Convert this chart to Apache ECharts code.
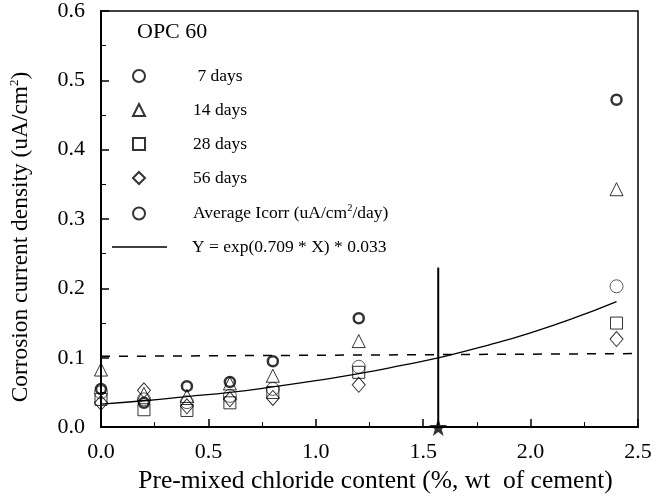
<!DOCTYPE html>
<html>
<head>
<meta charset="utf-8">
<script src="https://cdn.jsdelivr.net/npm/echarts@6/dist/echarts.min.js"></script>
<style>html,body{margin:0;padding:0;background:#fff}#c{width:668px;height:499px}</style>
</head>
<body>
<div id="c"></div>
<script>
// ---- data ----
var chlorideX = [0.0, 0.2, 0.4, 0.6, 0.8, 1.2, 2.4];
var days7  = [0.055, 0.035, 0.059, 0.065, 0.095, 0.157, 0.472];
var days14 = [0.083, 0.048, 0.045, 0.063, 0.074, 0.124, 0.343];
var days28 = [0.040, 0.025, 0.024, 0.035, 0.050, 0.079, 0.150];
var days56 = [0.035, 0.053, 0.030, 0.040, 0.042, 0.061, 0.127];
var avgIcorr = [0.050, 0.040, 0.036, 0.045, 0.055, 0.087, 0.203];
var fitX = [0.0, 0.2, 0.4, 0.6, 0.8, 1.0, 1.2, 1.4, 1.6, 1.8, 2.0, 2.2, 2.4];
var fitY = [0.033, 0.038, 0.044, 0.050, 0.058, 0.067, 0.077, 0.089, 0.102, 0.118, 0.136, 0.157, 0.181];
var thresholdX = [0.0, 2.5];
var thresholdY = [0.102, 0.106];
var criticalX = 1.57;
var criticalTopY = 0.23;
var legendNames = ['7 days', '14 days', '28 days', '56 days', 'Average'];
var fitName = 'Fit';

function pairs(xs, ys){ return xs.map(function(x,i){ return [x, ys[i]]; }); }

var FONT = '"Liberation Serif", "DejaVu Serif", serif';
var LF = 17.5;
var chart = echarts.init(document.getElementById('c'));
var hollow = function(w){ return {color:'rgba(0,0,0,0)', borderColor:'#000', borderWidth:w}; };
var richLegend = {
  f:{fontFamily:FONT, fontSize:LF, color:'#000', padding:[0,0,0,43]},
  t:{fontFamily:FONT, fontSize:LF, color:'#000'},
  s:{fontFamily:FONT, fontSize:10.5, color:'#000', padding:[0,0,10,0]}
};

chart.setOption({
  animation: false,
  backgroundColor: '#fff',
  textStyle: {fontFamily: FONT, color:'#000'},
  grid: {left:101, right:30, top:10, bottom:63, show:true, borderColor:'#000', borderWidth:1.5, backgroundColor:'transparent'},
  title: {text:'OPC 60', left:132, top:16, textStyle:{fontFamily:FONT, fontSize:22, fontWeight:'normal', color:'#000'}},
  legend: [{
    orient:'vertical', left:127, top:62, itemWidth:12, itemHeight:12, itemGap:16,
    data: legendNames,
    formatter: function(n){
      if(n==='7 days') return '{f| 7 days}';
      if(n==='Average') return '{f|Average Icorr (uA/cm}{s|2}{t|/day)}';
      return '{f|'+n+'}';
    },
    textStyle:{fontFamily:FONT, color:'#000', rich:richLegend},
    selectedMode:false
  },{
    orient:'vertical', left:107, top:233, itemWidth:55, itemHeight:1.5,
    data:[{name:fitName, icon:'rect'}],
    formatter: function(){ return '{f|Y = exp(0.709 * X) * 0.033}'; },
    textStyle:{fontFamily:FONT, color:'#000', rich:{
      f:{fontFamily:FONT, fontSize:LF, color:'#000', padding:[0,0,0,20]}
    }},
    selectedMode:false
  }],
  xAxis: {
    type:'value', min:0, max:2.5, interval:0.5,
    name:'{t|Pre-mixed chloride content (%, wt  of cement)}', nameLocation:'middle', nameGap:40,
    nameTextStyle:{fontFamily:FONT, fontSize:25.5, color:'#000', rich:{
      t:{fontFamily:FONT, fontSize:25.5, color:'#000', padding:[0,0,0,12]}
    }},
    axisLine:{onZero:false, lineStyle:{color:'#000', width:2}},
    axisTick:{inside:true, length:8, lineStyle:{color:'#000', width:1.5}},
    minorTick:{show:true, splitNumber:2, length:5, lineStyle:{color:'#000', width:1}},
    splitLine:{show:false},
    axisLabel:{fontFamily:FONT, fontSize:22, color:'#000', margin:14, formatter:function(v){return v.toFixed(1);}}
  },
  yAxis: {
    type:'value', min:0, max:0.6, interval:0.1,
    name:'{t|Corrosion current density (uA/cm}{s|2}{e|)}', nameLocation:'middle', nameGap:68, nameRotate:90,
    nameTextStyle:{fontFamily:FONT, fontSize:23.4, color:'#000', rich:{
      t:{fontFamily:FONT, fontSize:23.4, color:'#000'},
      s:{fontFamily:FONT, fontSize:13, color:'#000', padding:[0,0,12,0]},
      e:{fontFamily:FONT, fontSize:23.4, color:'#000', padding:[0,36,0,0]}
    }},
    axisLine:{onZero:false, lineStyle:{color:'#000', width:2}},
    axisTick:{inside:true, length:8, lineStyle:{color:'#000', width:1.5}},
    minorTick:{show:true, splitNumber:2, length:5, lineStyle:{color:'#000', width:1}},
    splitLine:{show:false},
    axisLabel:{fontFamily:FONT, fontSize:22, color:'#000', margin:16, formatter:function(v){return v.toFixed(1);}}
  },
  series: [
    {name:'7 days', type:'scatter', symbol:'circle', symbolSize:10, itemStyle:hollow(2.5), data:pairs(chlorideX, days7), z:5},
    {name:'14 days', type:'scatter', symbol:'triangle', symbolSize:13, itemStyle:hollow(1), data:pairs(chlorideX, days14), z:5},
    {name:'28 days', type:'scatter', symbol:'rect', symbolSize:12, itemStyle:hollow(1), data:pairs(chlorideX, days28), z:5},
    {name:'56 days', type:'scatter', symbol:'diamond', symbolSize:[13,15], itemStyle:hollow(1), data:pairs(chlorideX, days56), z:5},
    {name:'Average', type:'scatter', symbol:'circle', symbolSize:13, itemStyle:hollow(0.8), data:pairs(chlorideX, avgIcorr), z:5},
    {name:fitName, type:'line', smooth:true, symbol:'none', showSymbol:false, lineStyle:{color:'#000', width:1.3}, itemStyle:{color:'#000'}, data:pairs(fitX, fitY), z:4},
    {name:'threshold', type:'line', symbol:'none', lineStyle:{color:'#000', width:1.5, type:[9,9]}, data:pairs(thresholdX, thresholdY), z:3},
    {name:'critical', type:'line', symbol:'none', lineStyle:{color:'#000', width:2}, data:[[criticalX,0],[criticalX,criticalTopY]], z:3},
    {name:'star', type:'scatter', clip:false, symbol:'path://M50,0 L61,35 L98,35 L68,57 L79,91 L50,70 L21,91 L32,57 L2,35 L39,35 Z', symbolSize:18, itemStyle:{color:'#000'}, data:[[criticalX,0]], z:6}
  ]
});
</script>
</body>
</html>
